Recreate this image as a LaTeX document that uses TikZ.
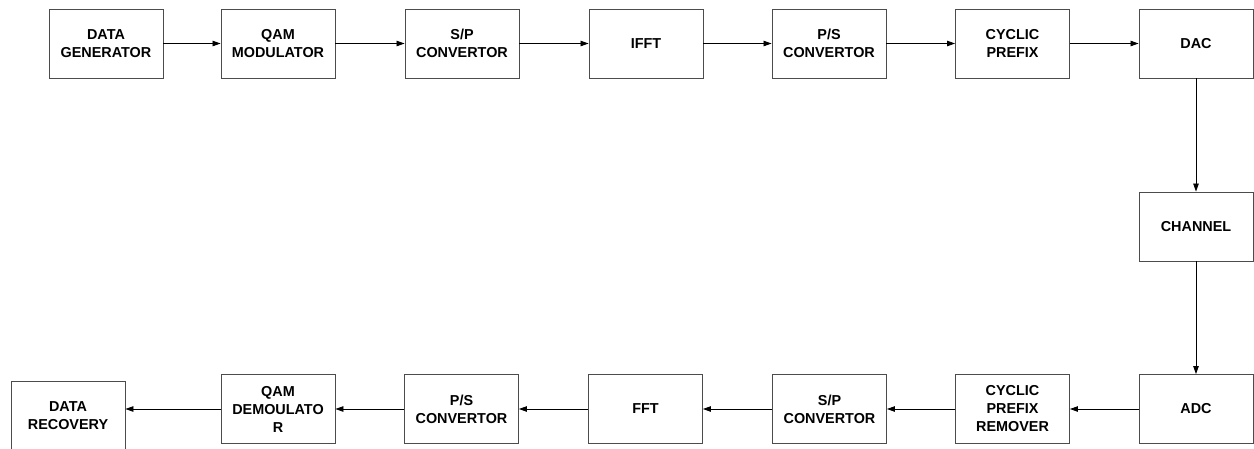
\documentclass[tikz,border=0pt]{standalone}
\usepackage{fontspec}
\setmainfont{Liberation Sans}
\usepackage{tikz}
\usetikzlibrary{arrows.meta, positioning, calc}

\begin{document}
\begin{tikzpicture}[x=1pt, y=-1pt,
        block/.style={draw=black!70, line width=0.9pt, fill=white, minimum width=114pt, minimum height=69pt,
            align=center, font=\fontsize{14.4}{18}\selectfont\bfseries, inner sep=0pt},
        flow/.style={-{Triangle[length=8pt, width=5.5pt]}, line width=0.8pt, black}]
        \useasboundingbox (0,0) rectangle (1254,448);

        % transmitter
        \node[block] (gen) at (106,43.5) {DATA\\GENERATOR};
        \node[block] (qam) at (278,43.5) {QAM\\MODULATOR};
        \node[block] (sp) at (462,43.5) {S/P\\CONVERTOR};
        \node[block] (ifft) at (646,43.5) {IFFT};
        \node[block] (ps) at (829,43.5) {P/S\\CONVERTOR};
        \node[block] (cp) at (1012.5,43.5) {CYCLIC\\PREFIX};
        \node[block] (dac) at (1196,43.5) {DAC};

        % channel
        \node[block] (chan) at (1196,226.5) {CHANNEL};

        % receiver
        \node[block] (adc) at (1196,409) {ADC};
        \node[block] (cprem) at (1012.5,409) {CYCLIC\\PREFIX\\REMOVER};
        \node[block] (rsp) at (829.5,409) {S/P\\CONVERTOR};
        \node[block] (fft) at (645.5,409) {FFT};
        \node[block] (rps) at (461.5,409) {P/S\\CONVERTOR};
        \node[block] (qamd) at (278,409) {QAM\\DEMOULATO\\R};
        \node[block] (rec) at (68,416) {DATA\\RECOVERY};

        \draw[flow] (gen) -- (qam);
        \draw[flow] (qam) -- (sp);
        \draw[flow] (sp) -- (ifft);
        \draw[flow] (ifft) -- (ps);
        \draw[flow] (ps) -- (cp);
        \draw[flow] (cp) -- (dac);
        \draw[flow] (dac) -- (chan);
        \draw[flow] (chan) -- (adc);
        \draw[flow] (adc) -- (cprem);
        \draw[flow] (cprem) -- (rsp);
        \draw[flow] (rsp) -- (fft);
        \draw[flow] (fft) -- (rps);
        \draw[flow] (rps) -- (qamd);
        \draw[flow] (qamd.west) -- (qamd.west -| rec.east);
    \end{tikzpicture}
\end{document}
